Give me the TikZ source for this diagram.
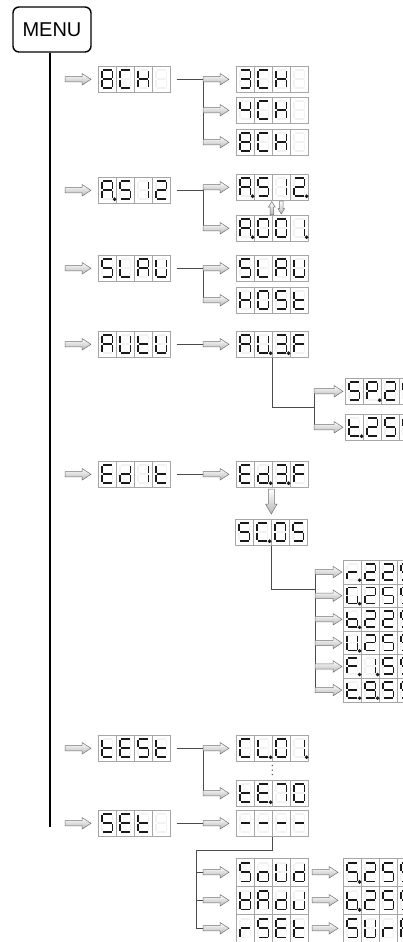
\documentclass[tikz,border=0pt]{standalone}
\usepackage{fontspec}
\setmainfont{Liberation Sans}
% glyph segment lists
\def\gZero{a,b,c,d,e,f}
\def\gOne{b,c}
\def\gTwo{a,b,d,e,g}
\def\gThree{a,b,c,d,g}
\def\gFour{b,c,f,g}
\def\gFive{a,c,d,f,g}
\def\gSeven{a,b,c}
\def\gEight{a,b,c,d,e,f,g}
\def\gNine{a,b,c,d,f,g}
\def\gA{a,b,c,e,f,g}
\def\gb{c,d,e,f,g}
\def\gC{a,d,e,f}
\def\gd{b,c,d,e,g}
\def\gE{a,d,e,f,g}
\def\gF{a,e,f,g}
\def\gG{a,c,d,e,f}
\def\gH{b,c,e,f,g}
\def\gHH{b,c,d,e,f,g}
\def\gJ{b,c,d,e}
\def\gL{d,e,f}
\def\go{c,d,e,g}
\def\gP{a,b,e,f,g}
\def\gr{e,g}
\def\gt{d,e,f,g}
\def\gU{b,c,d,e,f}
\def\gDash{g}
\def\gN{n}
% segments
\expandafter\def\csname dsga\endcsname#1{\draw[#1] (4.9,4.3) -- (13.7,4.3);}
\expandafter\def\csname dsgb\endcsname#1{\draw[#1] (14.6,5.2) -- (14.6,12.1);}
\expandafter\def\csname dsgc\endcsname#1{\draw[#1] (14.6,13.9) -- (14.6,20.9);}
\expandafter\def\csname dsgd\endcsname#1{\draw[#1] (4.9,21.8) -- (13.7,21.8);}
\expandafter\def\csname dsge\endcsname#1{\draw[#1] (4,13.9) -- (4,20.9);}
\expandafter\def\csname dsgf\endcsname#1{\draw[#1] (4,5.2) -- (4,12.1);}
\expandafter\def\csname dsgg\endcsname#1{\draw[#1] (4.9,13) -- (13.7,13);}
\expandafter\def\csname dsgp\endcsname#1{\fill[#1] (16.6,22.2) circle (0.75);}
\newcommand\drawseg[2]{\ifcsname dsg#2\endcsname\csname dsg#2\endcsname{#1}\fi}
\newcommand\dcell[2]{%
  \begin{scope}[xshift=#1]
    \foreach \s in {a,b,c,d,e,f,g} {\drawseg{segoff}{\s}}
    \edef\dcellsegs{#2}%
    \foreach \s in \dcellsegs {\drawseg{segon}{\s}}
  \end{scope}}
\newcommand\disp[8]{%
  \node[dispnode, minimum height=#4pt] (#1) at (#2,#3) {};
  \begin{scope}[shift={(#2,#3)}, yscale=#4/26]
    \foreach \i in {1,2,3} {\draw[cellbox] (18*\i,0) -- (18*\i,26);}
    \dcell{0}{#5}\dcell{18}{#6}\dcell{36}{#7}\dcell{54}{#8}
  \end{scope}}
\tikzset{
  segon/.style={draw=black!90, fill=black!90, line width=1.75pt},
  segoff/.style={draw=black!5, line width=1.75pt},
  cellbox/.style={draw=black!35, line width=0.6pt},
  dispnode/.style={rectangle, inner sep=0pt, minimum width=72pt, anchor=north west,
    draw=black!35, line width=0.6pt, fill=white},
  tree/.style={draw=black!70, line width=0.9pt},
  harrowstyle/.style={draw=black!55, line width=0.5pt, top color=white, bottom color=black!28},
  pics/harr/.style={code={\path[harrowstyle] (-#1,-2.6) -- (-9,-2.6) -- (-9,-5.8) -- (0,0)
      -- (-9,5.8) -- (-9,2.6) -- (-#1,2.6) -- cycle;}},
  pics/varr/.style={code={\path[harrowstyle] (-3,-#1) -- (3,-#1) -- (3,-10) -- (5.8,-10) -- (0,0)
      -- (-5.8,-10) -- (-3,-10) -- cycle;}},
  pics/sarr/.style={code={\path[harrowstyle] (-1.7,-#1) -- (1.7,-#1) -- (1.7,-5.5) -- (3.4,-5.5) -- (0,0)
      -- (-3.4,-5.5) -- (-1.7,-5.5) -- cycle;}},
}
\begin{document}
\begin{tikzpicture}[x=1pt,y=-1pt]
\useasboundingbox (0,0) rectangle (403,942);
\clip (0,0) rectangle (403,942);
\fill[white] (0,0) rectangle (403,942);
% MENU and main line
\node[draw, rounded corners=6pt, line width=1.4pt, minimum width=78pt, minimum height=45pt,
  inner sep=0pt, font=\fontsize{20}{20}\selectfont] (menu) at (52,29.5) {MENU};
\coordinate (mainend) at (50,827);
\draw[line width=2pt] (mainend |- menu.south) -- (mainend);
% level 1
\disp{m1}{98}{66}{26}{\gEight}{\gC}{\gH}{\gN}
\disp{m2}{98}{177}{26}{\gA,p}{\gFive}{\gOne}{\gTwo}
\disp{m3}{98}{255}{26}{\gFive}{\gL}{\gA}{\gU}
\disp{m4}{98}{331}{26}{\gA}{\gU}{\gt}{\gU}
\disp{m5}{98}{461}{26}{\gE}{\gd}{\gOne}{\gt}
\disp{m6}{98}{735}{26}{\gt}{\gE}{\gFive}{\gt}
\disp{m7}{98}{810}{26}{\gFive}{\gE}{\gt}{\gN}
% level 2
\disp{c3CH}{236}{66}{26}{\gThree}{\gC}{\gH}{\gN}
\disp{c4CH}{236}{97}{26}{\gFour}{\gC}{\gH}{\gN}
\disp{c8CH}{236}{129}{26}{\gEight}{\gC}{\gH}{\gN}
\disp{cAS}{236}{174}{26}{\gA,p}{\gFive}{\gOne}{\gTwo,p}
\disp{cA001}{236}{215}{26}{\gA,p}{\gZero}{\gZero}{\gOne,p}
\disp{cSLAU}{236}{255}{26}{\gFive}{\gL}{\gA}{\gU}
\disp{cHOSt}{236}{287}{26}{\gH}{\gZero}{\gFive}{\gt}
\disp{cAU3F}{236}{331}{26}{\gA}{\gU,p}{\gThree,p}{\gF}
\disp{cEd3F}{236}{461}{26}{\gE}{\gd,p}{\gThree,p}{\gF}
\disp{cSC05}{235}{519}{26}{\gFive}{\gC,p}{\gZero}{\gFive}
\disp{cCL01}{236}{735}{26}{\gC}{\gL,p}{\gZero}{\gOne,p}
\disp{cTE70}{236}{780}{26}{\gt}{\gE,p}{\gSeven}{\gZero}
\disp{cDash}{236}{810}{26}{\gDash}{\gDash}{\gDash}{\gDash}
\disp{cSoUd}{236}{858}{28}{\gFive}{\go}{\gU}{\gd}
\disp{cHAdJ}{236}{886}{28}{\gHH}{\gA}{\gd}{\gJ}
\disp{crSEt}{236}{914}{28}{\gr}{\gFive}{\gE}{\gt}
% level 3
\disp{sSP}{345}{378}{26}{\gFive}{\gP,p}{\gTwo}{\gFive}
\disp{sT}{345}{414}{26}{\gt,p}{\gTwo}{\gFive}{\gFive}
\disp{s1}{343}{560}{23.6}{\gr,p}{\gTwo}{\gTwo}{\gNine}
\disp{s2}{343}{583.6}{23.6}{\gG,p}{\gTwo}{\gFive}{\gNine}
\disp{s3}{343}{607.2}{23.6}{\gb,p}{\gTwo}{\gTwo}{\gNine}
\disp{s4}{343}{630.8}{23.6}{\gU,p}{\gTwo}{\gFive}{\gNine}
\disp{s5}{343}{654.4}{23.6}{\gF,p}{\gOne,p}{\gFive}{\gNine}
\disp{s6}{343}{678}{23.6}{\gt,p}{\gNine,p}{\gFive}{\gNine}
\disp{t1}{343}{858}{28}{\gFive,p}{\gTwo}{\gFive}{\gNine}
\disp{t2}{343}{886}{28}{\gb,p}{\gTwo}{\gFive}{\gNine}
\disp{t3}{343}{914}{28}{\gFive}{\gU}{\gr}{\gF}
% junction columns
\coordinate (jx) at (203,0);
\coordinate (kx) at (314,0);
\coordinate (mx) at (315,0);
\coordinate (lx) at (196,0);
\coordinate (ky) at (314,407);
\coordinate (my) at (315,589);
\coordinate (ly) at (196,850);
% main arrows
\foreach \n in {m1,m2,m3,m4,m5,m6,m7} {\pic at ([xshift=-7pt]\n.west) {harr=26};}
% level 1 -> level 2 lines
\foreach \n in {m1,m2,m3,m4,m5,m6,m7} {\draw[tree] ([xshift=6pt]\n.east) -- (jx |- \n.east);}
\draw[tree] (jx |- c3CH.west) -- (jx |- c8CH.west);
\draw[tree] (jx |- cAS.west) -- (jx |- cA001.west);
\draw[tree] (jx |- cSLAU.west) -- (jx |- cHOSt.west);
\draw[tree] (jx |- cCL01.west) -- (jx |- cTE70.west);
\foreach \n in {c3CH,c4CH,c8CH,cAS,cA001,cSLAU,cHOSt,cAU3F,cEd3F,cCL01,cTE70,cDash,cSoUd,cHAdJ,crSEt}
  {\pic at ([xshift=-7pt]\n.west) {harr=26};}
% AS12 up/down
\pic[rotate=180] at ([xshift=-0.5pt,yshift=13.5pt]cA001.north) {sarr=13};
\pic at ([xshift=9pt,yshift=1pt]cA001.north) {sarr=13};
% AU3F branch
\draw[tree] (cAU3F.south) |- (ky);
\draw[tree] (kx |- sSP.west) -- (kx |- sT.west);
\foreach \n in {sSP,sT} {\pic at ([xshift=-2pt]\n.west) {harr=29};}
% Ed3F -> SC05
\pic at ([yshift=5pt]cSC05.north) {varr=25};
\draw[tree] (cSC05.south) |- (my);
\draw[tree] (mx |- s1.west) -- (mx |- s6.west);
\foreach \n in {s1,s2,s3,s4,s5,s6} {\pic at ([xshift=-1pt]\n.west) {harr=27};}
% test dots
\foreach \yy in {0,4.5,9} {\fill[black!70] ([yshift=-4pt-\yy pt]cCL01.south) circle (0.75);}
% SEt branch
\draw[tree] (cDash.south) |- (ly) -- (lx |- crSEt.west);
\foreach \n in {cSoUd,cHAdJ,crSEt} {\draw[tree] (lx |- \n.west) -- (jx |- \n.west);}
\foreach \n in {t1,t2,t3} {\pic at ([xshift=-5pt]\n.west) {harr=26};}
\end{tikzpicture}
\end{document}
